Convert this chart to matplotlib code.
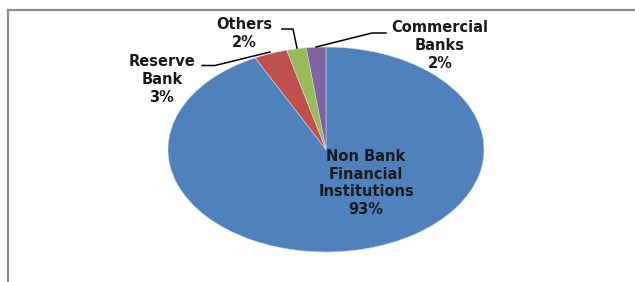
import matplotlib
matplotlib.use("Agg")
import matplotlib.pyplot as plt
from matplotlib.lines import Line2D

categories = ["Non Bank\nFinancial\nInstitutions", "Reserve\nBank", "Others", "Commercial\nBanks"]
values = [92.6, 3.4, 2.0, 2.0]
colors = ["#4F81BD", "#C0504D", "#9BBB59", "#8064A2"]

W, H = 635, 282
fig = plt.figure(figsize=(W / 100, H / 100), dpi=100)
fig.patch.set_facecolor("white")

# pie ellipse geometry (pixels)
cx, cy, rx, ry = 326, 149.5, 158, 102.5
ax = fig.add_axes([0, 0, 1, 1])

def P(px, py):
    return ((px - cx) / rx, (cy - py) / ry)

wedges, _ = ax.pie(values, colors=colors, startangle=90, counterclock=False,
                   radius=1.0, center=(0, 0), frame=True,
                   wedgeprops=dict(linewidth=0.4, edgecolor="#d0d8e8"))
ax.set_xlim((0 - cx) / rx, (W - cx) / rx)
ax.set_ylim((cy - H) / ry, (cy - 0) / ry)
ax.set_aspect("auto")
ax.axis("off")

pct = [f"{v:.0f}%" for v in values]
label_pos = [(366, 183), (162, 79.5), (244, 33.5), (440, 45.5)]
tcol = "#1a1a1a"
for lab, p, (px, py) in zip(categories, pct, label_pos):
    x, y = P(px, py)
    ax.text(x, y, f"{lab}\n{p}", ha="center", va="center", fontsize=10.5,
            fontweight="bold", color=tcol, family="DejaVu Sans", linespacing=1.22)

leaders = [
    [(202, 65.5), (215, 65.5), (270, 52)],
    [(282, 29), (293, 29), (297, 48)],
    [(386, 33), (372, 33), (316, 47)],
]
for pts in leaders:
    xs, ys = zip(*[P(a, b) for a, b in pts])
    ax.plot(xs, ys, color="black", lw=1.1)

# frame
fig.add_artist(Line2D([8 / W, 8 / W], [0, 1 - 10 / H], transform=fig.transFigure,
                      color="#8c8c8c", lw=1.6))
fig.add_artist(Line2D([8 / W, 1], [1 - 10 / H, 1 - 10 / H], transform=fig.transFigure,
                      color="#8c8c8c", lw=1.6))

fig.savefig("out.png", dpi=100)
